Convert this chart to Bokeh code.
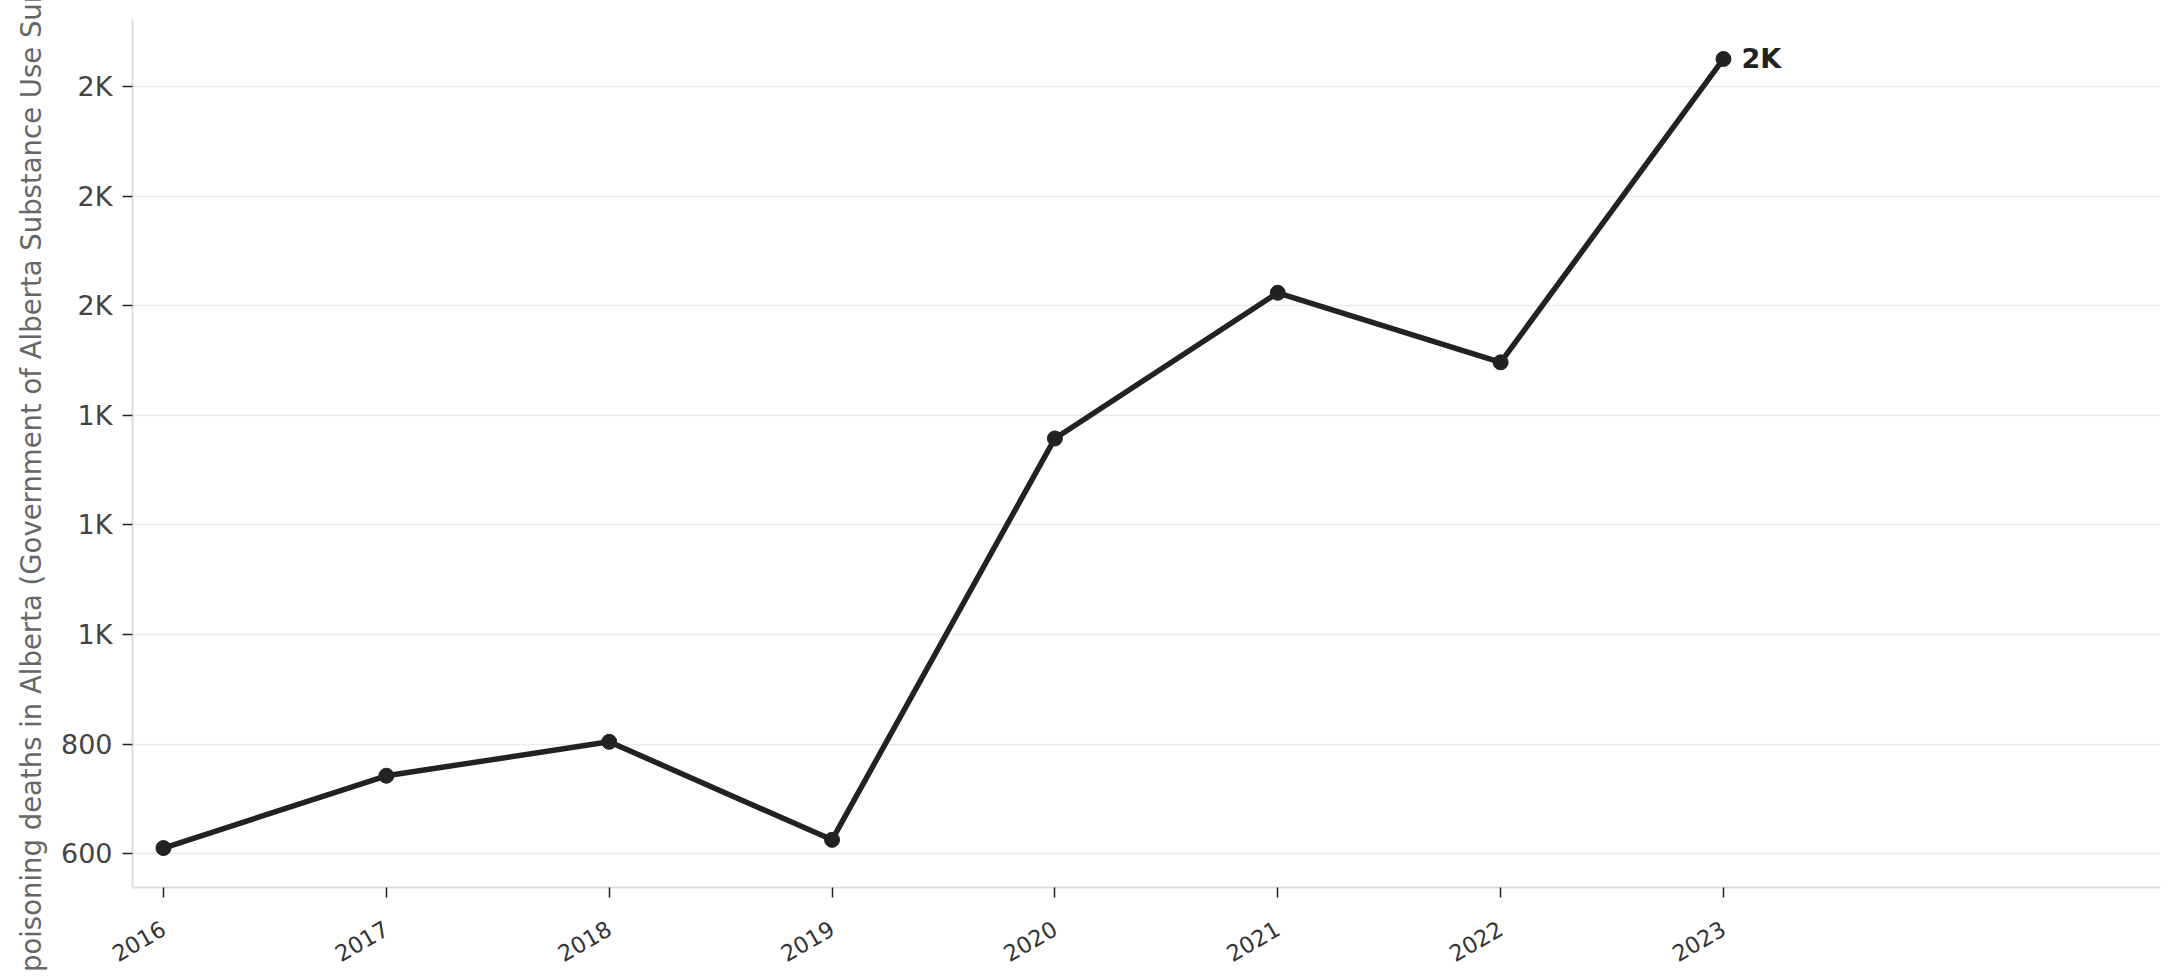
from math import pi
from bokeh.plotting import figure
from bokeh.models import Range1d, FixedTicker
from bokeh.core.properties import value
from bokeh.embed import file_html
from bokeh.resources import INLINE

# ---- data ----
years = [2016, 2017, 2018, 2019, 2020, 2021, 2022, 2023]
deaths = [610, 742, 804, 625, 1358, 1624, 1497, 2051]
y_ticks = [600, 800, 1000, 1200, 1400, 1600, 1800, 2000]
y_label = ("Substance poisoning deaths in Alberta "
           "(Government of Alberta Substance Use Surveillance System)")


def fmt_k(v):
    return f"{v / 1000:.0f}K" if v >= 1000 else f"{v:.0f}"


FONT = "DejaVu Sans"
span = max(deaths) - min(deaths)

p = figure(
    frame_width=2028, frame_height=868,
    min_border_left=132, min_border_right=19,
    min_border_top=19, min_border_bottom=93,
    output_backend="svg", toolbar_location=None,
    x_range=Range1d(2015.861, 2024.961),
    y_range=Range1d(min(deaths) - 0.05 * span, max(deaths) + 0.05 * span),
)
p.outline_line_color = None
p.background_fill_color = "white"
p.border_fill_color = "white"

# grid
p.xgrid.grid_line_color = None
p.ygrid.grid_line_color = "#ebebeb"
p.ygrid.grid_line_width = 1.5

# axes
for ax in (p.xaxis, p.yaxis):
    ax.axis_line_color = "#dddddd"
    ax.axis_line_width = 2
    ax.major_tick_line_color = "#222222"
    ax.major_tick_line_width = 1.5
    ax.major_tick_in = 0
    ax.major_tick_out = 10
    ax.minor_tick_line_color = None
    ax.major_label_text_font = FONT

p.xaxis.ticker = FixedTicker(ticks=years)
p.xaxis.major_label_overrides = {y: str(y) for y in years}
p.xaxis.major_label_orientation = pi / 6
p.xaxis.major_label_text_font_size = "22.5px"
p.xaxis.major_label_text_color = "#333333"
p.xaxis.major_label_standoff = 29

p.yaxis.ticker = FixedTicker(ticks=y_ticks)
p.yaxis.major_label_overrides = {t: fmt_k(t) for t in y_ticks}
p.yaxis.major_label_text_font_size = "27px"
p.yaxis.major_label_text_color = "#444444"
p.yaxis.major_label_standoff = 10

# long y-axis title: it overflows the chart height, as in the reference;
# leading no-break spaces shift its centre so the same part stays visible
p.yaxis.axis_label = "\u00a0" * 4 + y_label
p.yaxis.axis_label_text_font = FONT
p.yaxis.axis_label_text_font_size = "27.5px"
p.yaxis.axis_label_text_font_style = "normal"
p.yaxis.axis_label_text_color = "#666666"
p.yaxis.axis_label_standoff = 11

# series
p.line(years, deaths, line_width=5.5, line_color="#222222")
p.scatter(years, deaths, size=15, fill_color="#222222", line_color="#222222")

# end label
p.text(x=[years[-1]], y=[deaths[-1]], text=[fmt_k(deaths[-1])],
       x_offset=18, text_align="left", text_baseline="middle",
       text_font=value(FONT), text_font_style="bold",
       text_font_size="27px", text_color="#222222")

open("out.html", "w").write(file_html(p, INLINE))
